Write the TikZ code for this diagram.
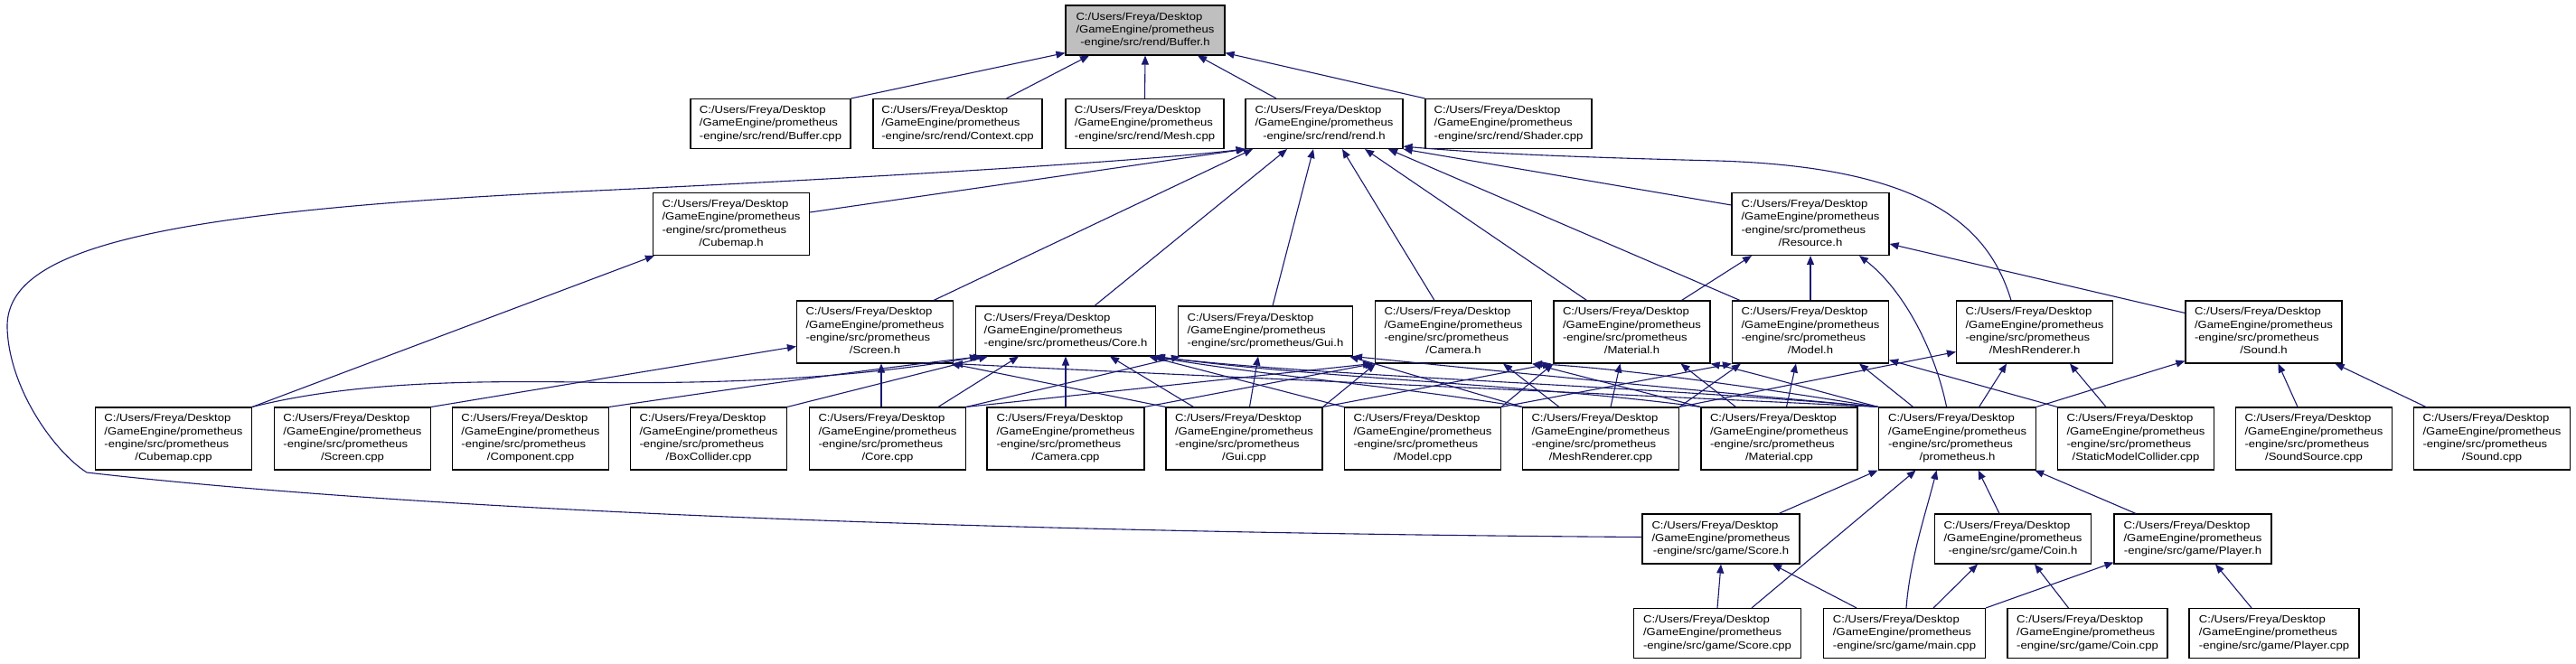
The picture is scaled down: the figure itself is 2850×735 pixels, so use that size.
\documentclass[tikz,border=0pt]{standalone}
\usepackage{fontspec}
\usetikzlibrary{arrows.meta,calc}
\newfontfamily\dxfont{Liberation Sans}[FakeStretch=1.13]
\definecolor{edgec}{RGB}{25,25,112}
\definecolor{rootfill}{RGB}{191,191,191}
\newcommand\tril[1]{\begin{tabular}{@{}l@{}}C:/Users/Freya/Desktop\\/GameEngine/prometheus\\\multicolumn{1}{@{}c@{}}{#1}\end{tabular}}
\newcommand\quadl[1]{\begin{tabular}{@{}l@{}}C:/Users/Freya/Desktop\\/GameEngine/prometheus\\-engine/src/prometheus\\\multicolumn{1}{@{}c@{}}{#1}\end{tabular}}
\tikzset{
  box/.style={draw=black, line width=1.1pt, fill=white, inner sep=0pt, minimum width=173pt, minimum height=55pt, font=\dxfont\fontsize{11.6}{14.3}\selectfont, align=center},
  boxq/.style={box, minimum height=69pt},
  e/.style={draw=edgec, line width=1.1pt, -{Triangle[length=10pt,width=8pt]}},
}
\begin{document}
\begin{tikzpicture}[x=1pt,y=-1pt]
\fill[white] (0,0) rectangle (2850,735);
\useasboundingbox (0,0) rectangle (2850,735);
% row 0
\node[box, fill=rootfill, minimum width=176pt] (bufh) at (1267,33.5) {\tril{-engine/src/rend/Buffer.h}};
% row 1
\node[box, minimum width=177pt] (bufcpp) at (852.5,137) {\tril{-engine/src/rend/Buffer.cpp}};
\node[box, minimum width=187pt] (ctxcpp) at (1059.5,137) {\tril{-engine/src/rend/Context.cpp}};
\node[box, minimum width=175pt] (meshcpp) at (1266.5,137) {\tril{-engine/src/rend/Mesh.cpp}};
\node[box, minimum width=174pt] (rendh) at (1465,137) {\tril{-engine/src/rend/rend.h}};
\node[box, minimum width=184pt] (shadercpp) at (1669,137) {\tril{-engine/src/rend/Shader.cpp}};
% row 2
\node[boxq] (cubeh) at (809,248) {\quadl{/Cubemap.h}};
\node[boxq, minimum width=174pt] (resh) at (2003,248) {\quadl{/Resource.h}};
% row 3
\node[boxq] (screenh) at (968,367.5) {\quadl{/Screen.h}};
\node[box, minimum width=199pt] (coreh) at (1179,366.5) {\tril{-engine/src/prometheus/Core.h}};
\node[box, minimum width=193pt] (guih) at (1400,366.5) {\tril{-engine/src/prometheus/Gui.h}};
\node[boxq] (camh) at (1608,367.5) {\quadl{/Camera.h}};
\node[boxq] (matlh) at (1805.5,367.5) {\quadl{/Material.h}};
\node[boxq] (modelh) at (2003,367.5) {\quadl{/Model.h}};
\node[boxq] (mrh) at (2251,367.5) {\quadl{/MeshRenderer.h}};
\node[boxq] (soundh) at (2504.5,367.5) {\quadl{/Sound.h}};
% row 4
\node[boxq] (cubecpp) at (192,485.5) {\quadl{/Cubemap.cpp}};
\node[boxq] (screencpp) at (390,485.5) {\quadl{/Screen.cpp}};
\node[boxq] (compcpp) at (587,485.5) {\quadl{/Component.cpp}};
\node[boxq] (boxcpp) at (784,485.5) {\quadl{/BoxCollider.cpp}};
\node[boxq] (corecpp) at (982,485.5) {\quadl{/Core.cpp}};
\node[boxq, minimum width=174pt] (camcpp) at (1179,485.5) {\quadl{/Camera.cpp}};
\node[boxq] (guicpp) at (1376.5,485.5) {\quadl{/Gui.cpp}};
\node[boxq] (modelcpp) at (1574,485.5) {\quadl{/Model.cpp}};
\node[boxq] (mrcpp) at (1771,485.5) {\quadl{/MeshRenderer.cpp}};
\node[boxq] (matcpp) at (1968.5,485.5) {\quadl{/Material.cpp}};
\node[boxq, minimum width=174pt] (promh) at (2165.6,485.5) {\quadl{/prometheus.h}};
\node[boxq] (smccpp) at (2363,485.5) {\quadl{/StaticModelCollider.cpp}};
\node[boxq] (sscpp) at (2560,485.5) {\quadl{/SoundSource.cpp}};
\node[boxq] (soundcpp) at (2757,485.5) {\quadl{/Sound.cpp}};
% row 5
\node[box, minimum width=174pt] (scoreh) at (1904,596.5) {\tril{-engine/src/game/Score.h}};
\node[box] (coinh) at (2227,596.5) {\tril{-engine/src/game/Coin.h}};
\node[box, minimum width=174pt] (playerh) at (2426,596.5) {\tril{-engine/src/game/Player.h}};
% row 6
\node[box, minimum width=185pt] (scorecpp) at (1900,701) {\tril{-engine/src/game/Score.cpp}};
\node[box, minimum width=179pt] (maincpp) at (2107,701) {\tril{-engine/src/game/main.cpp}};
\node[box, minimum width=177pt] (coincpp) at (2309.5,701) {\tril{-engine/src/game/Coin.cpp}};
\node[box, minimum width=188pt] (playercpp) at (2516,701) {\tril{-engine/src/game/Player.cpp}};

% ---- edges into Buffer.h
\draw[e] (bufcpp.north east) -- ([yshift=3pt]bufh.south west);
\draw[e] ([xshift=54pt]ctxcpp.north) -- ([xshift=-62pt]bufh.south);
\draw[e] (meshcpp.north) -- (bufh.south);
\draw[e] ([xshift=-53pt]rendh.north) -- ([xshift=58pt]bufh.south);
\draw[e] (shadercpp.north west) -- ([yshift=3pt]bufh.south east);
% ---- edges into rend.h
\draw[e] ([yshift=2pt]scoreh.west) .. controls (1300,591) and (550,575) .. (96,523) .. controls (60,500) and (10,430) .. (8,363) .. controls (6,280) and (150,235) .. (638,212) .. controls (900,200) and (1250,180) .. (rendh.south west);
\draw[e] ([yshift=13pt]cubeh.east) -- ([xshift=1pt]rendh.south west);
\draw[e] ([xshift=65pt]screenh.north) -- ([xshift=-79pt]rendh.south);
\draw[e] ([xshift=32pt]coreh.north) -- ([xshift=-41pt]rendh.south);
\draw[e] ([xshift=8pt]guih.north) -- ([xshift=-12pt]rendh.south);
\draw[e] ([xshift=-21pt]camh.north) -- ([xshift=20pt]rendh.south);
\draw[e] ([xshift=-50pt]matlh.north) -- ([xshift=45pt]rendh.south);
\draw[e] ([xshift=-78pt]modelh.north) -- ([xshift=71pt]rendh.south);
\draw[e] ([yshift=21pt]resh.west) -- (rendh.south east);
\draw[e] ([xshift=-26pt]mrh.north) .. controls (2200,250) and (2130,185) .. (1900,178) .. controls (1700,173) and (1620,168) .. ([yshift=3pt]rendh.south east);
% ---- edges into Resource.h
\draw[e] ([xshift=55pt]matlh.north) -- ([xshift=-65pt]resh.south);
\draw[e] (modelh.north) -- (resh.south);
\draw[e] ([xshift=-12pt]promh.north) .. controls (2140,385) and (2105,320) .. ([xshift=54pt]resh.south);
\draw[e] ([yshift=21pt]soundh.west) -- ([yshift=-22pt]resh.east);
% ---- Cubemap.h
\draw[e] (cubecpp.north east) -- ([xshift=2pt]cubeh.south west);
% ---- Screen.h
\draw[e] (screencpp.north east) -- ([yshift=-16pt]screenh.west);
\draw[e] ([xshift=-7pt]corecpp.north) -- ([xshift=7pt]screenh.south);
\draw[e] (guicpp.north west) -- ([xshift=-3pt]screenh.south east);
\draw[e] (promh.north west) .. controls (1700,432) and (1300,415) .. (screenh.south east);
% ---- Core.h
\draw[e] (cubecpp.north east) .. controls (380,425) and (500,421) .. (640,423) .. controls (800,426) and (950,418) .. ([xshift=4pt]coreh.south west);
\draw[e] (compcpp.north east) .. controls (800,432) and (950,410) .. ([xshift=8pt]coreh.south west);
\draw[e] (boxcpp.north east) -- ([xshift=14pt]coreh.south west);
\draw[e] ([xshift=56pt]corecpp.north) -- ([xshift=-52pt]coreh.south);
\draw[e] (camcpp.north) -- (coreh.south);
\draw[e] ([xshift=-56pt]guicpp.north) -- ([xshift=49pt]coreh.south);
\draw[e] (modelcpp.north west) -- ([xshift=-8pt]coreh.south east);
\draw[e] (mrcpp.north west) .. controls (1550,428) and (1400,416) .. ([xshift=-4pt]coreh.south east);
\draw[e] (matcpp.north west) .. controls (1700,426) and (1450,418) .. (coreh.south east);
\draw[e] (promh.north west) .. controls (1800,426) and (1450,416) .. ([xshift=-2pt]coreh.south east);
% ---- Gui.h
\draw[e] (corecpp.north east) -- ([xshift=3pt]guih.south west);
\draw[e] ([xshift=6pt]guicpp.north) -- ([xshift=-8pt]guih.south);
\draw[e] (mrcpp.north west) -- ([xshift=-4pt]guih.south east);
\draw[e] (promh.north west) .. controls (1850,430) and (1650,410) .. (guih.south east);
% ---- Camera.h
\draw[e] (corecpp.north east) -- ([xshift=-3pt]camh.south west);
\draw[e] (camcpp.north east) -- ([xshift=-1pt]camh.south west);
\draw[e] (guicpp.north east) -- ([xshift=1pt]camh.south west);
\draw[e] ([xshift=-46pt]mrcpp.north) -- ([xshift=55pt]camh.south);
\draw[e] (matcpp.north west) -- (camh.south east);
\draw[e] (promh.north west) .. controls (1950,430) and (1800,408) .. ([xshift=1pt]camh.south east);
% ---- Material.h
\draw[e] (modelcpp.north east) -- (matlh.south west);
\draw[e] (guicpp.north east) -- ([xshift=-2pt]matlh.south west);
\draw[e] ([xshift=11pt]mrcpp.north) -- ([xshift=-13pt]matlh.south);
\draw[e] ([xshift=-48pt]matcpp.north) -- ([xshift=54pt]matlh.south);
\draw[e] (promh.north west) .. controls (2000,430) and (1930,410) .. (matlh.south east);
% ---- Model.h
\draw[e] (modelcpp.north east) -- (modelh.south west);
\draw[e] (mrcpp.north east) -- ([xshift=10pt]modelh.south west);
\draw[e] ([xshift=8pt]matcpp.north) -- ([xshift=-16pt]modelh.south);
\draw[e] ([xshift=-49pt]promh.north) -- ([xshift=54pt]modelh.south);
\draw[e] (smccpp.north west) -- ([yshift=4pt]modelh.south east);
% ---- MeshRenderer.h
\draw[e] (mrcpp.north east) -- ([yshift=-22pt]mrh.west);
\draw[e] ([xshift=24pt]promh.north) -- ([xshift=-31pt]mrh.south);
\draw[e] ([xshift=-33pt]smccpp.north) -- ([xshift=39pt]mrh.south);
% ---- Sound.h
\draw[e] (promh.north east) -- ([yshift=3pt]soundh.south west);
\draw[e] ([xshift=-18pt]sscpp.north) -- ([xshift=16pt]soundh.south);
\draw[e] ([xshift=14pt]soundcpp.north west) -- ([xshift=-8pt]soundh.south east);
% ---- prometheus.h
\draw[e] ([xshift=64pt]scoreh.north) -- ([xshift=-88pt]promh.south);
\draw[e] ([xshift=38pt]scorecpp.north) -- ([xshift=-46pt]promh.south);
\draw[e] ([xshift=2pt]maincpp.north) .. controls (2113,620) and (2130,570) .. ([xshift=-23pt]promh.south);
\draw[e] ([xshift=-15pt]coinh.north) -- ([xshift=23pt]promh.south);
\draw[e] ([xshift=-63pt]playerh.north) -- ([xshift=-2pt]promh.south east);
% ---- game headers
\draw[e] (scorecpp.north) -- (scoreh.south);
\draw[e] ([xshift=-53pt]maincpp.north) -- ([xshift=57pt]scoreh.south);
\draw[e] ([xshift=32pt]maincpp.north) -- ([xshift=-39pt]coinh.south);
\draw[e] (maincpp.north east) -- ([yshift=2pt]playerh.south west);
\draw[e] ([xshift=-21pt]coincpp.north) -- ([xshift=24pt]coinh.south);
\draw[e] ([xshift=-25pt]playercpp.north) -- ([xshift=25pt]playerh.south);
\end{tikzpicture}
\end{document}
